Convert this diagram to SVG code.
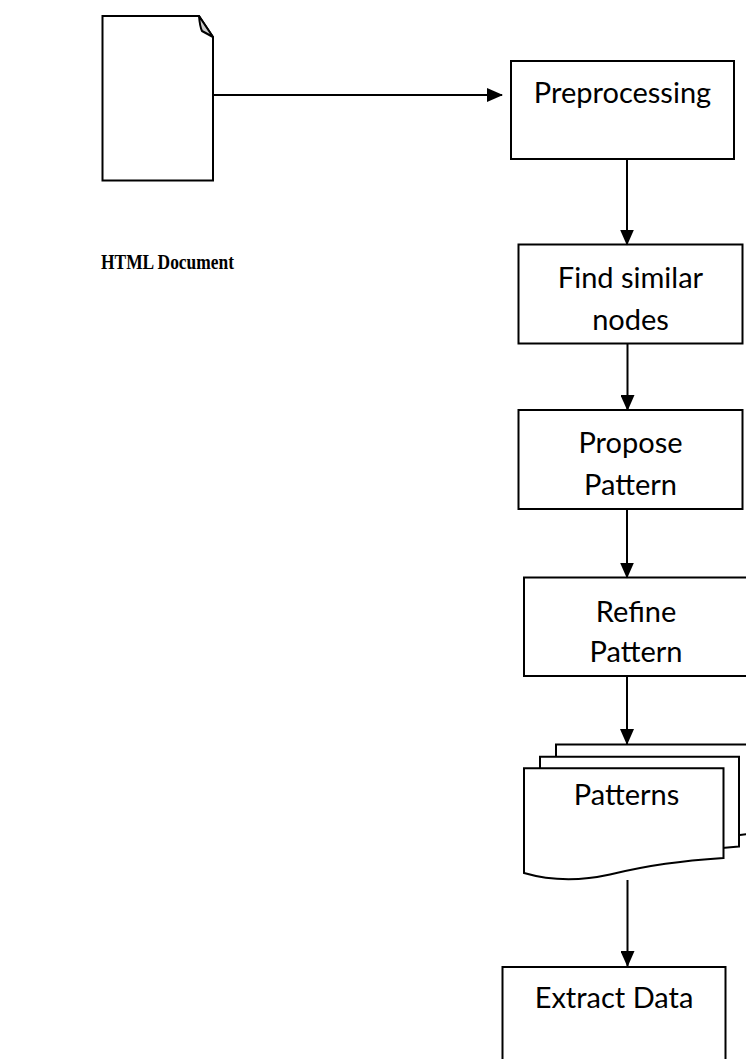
<svg xmlns="http://www.w3.org/2000/svg" width="746" height="1059" viewBox="0 0 746 1059">
  <style>
    .box { fill: #ffffff; stroke: #000000; stroke-width: 2; }
    .lbl { font-family: Lato, "Open Sans", "Liberation Sans", sans-serif; font-size: 29px; fill: #000000; text-anchor: middle; }
    .cap { font-family: "Liberation Serif", "Times New Roman", serif; font-size: 21px; font-weight: bold; fill: #000000; }
    .edge { stroke: #000000; stroke-width: 2; fill: none; }
  </style>
  <defs>
    <marker id="arr" markerWidth="16" markerHeight="14" refX="15" refY="7" orient="auto" markerUnits="userSpaceOnUse">
      <path d="M0,0 L16,7 L0,14 Z" fill="#000000"/>
    </marker>
  </defs>
  <rect width="746" height="1059" fill="#ffffff"/>

  <g id="html-document">
    <path class="box" d="M102.5,16 H199 L213,37 V180.5 H102.5 Z"/>
    <path d="M199,16 C199.5,22 200,27 202,31 L213,37 Z" fill="#cccccc" stroke="#000000" stroke-width="2" stroke-linejoin="round"/>
    <text class="cap" x="101" y="269" textLength="133" lengthAdjust="spacingAndGlyphs">HTML Document</text>
  </g>

  <g id="preprocessing">
    <rect class="box" x="511" y="61" width="223" height="98"/>
    <text class="lbl" x="622.5" y="103">Preprocessing</text>
  </g>

  <g id="find-similar">
    <rect class="box" x="518.5" y="244.5" width="224" height="99"/>
    <text class="lbl" x="630.5" y="288">Find similar</text>
    <text class="lbl" x="630.5" y="330">nodes</text>
  </g>

  <g id="propose-pattern">
    <rect class="box" x="518.5" y="410" width="224" height="99"/>
    <text class="lbl" x="630.5" y="453">Propose</text>
    <text class="lbl" x="630.5" y="495">Pattern</text>
  </g>

  <g id="refine-pattern">
    <rect class="box" x="524" y="577.5" width="224" height="98.5"/>
    <text class="lbl" x="636" y="621.5">Refine</text>
    <text class="lbl" x="636" y="662">Pattern</text>
  </g>

  <g id="patterns">
    <path class="box" d="M556,744.5 H760 V833 C720,836 690,842 660,850 C630,858 590,862 556,855 Z"/>
    <path class="box" d="M540,756.7 H739 V846.5 C700,849 670,855 640,862 C610,868 575,870 540,864 Z"/>
    <path class="box" d="M524,768.3 H723.5 V858 C680,861 650,865 610,874.5 C585,880 555,882 524,873 Z"/>
    <text class="lbl" x="626.5" y="805">Patterns</text>
  </g>

  <g id="extract-data">
    <rect class="box" x="502.5" y="967" width="223" height="100"/>
    <text class="lbl" x="614" y="1008">Extract Data</text>
  </g>

  <g id="connectors">
    <line class="edge" x1="214" y1="95" x2="502" y2="95" marker-end="url(#arr)"/>
    <line class="edge" x1="627" y1="159" x2="627" y2="244.5" marker-end="url(#arr)"/>
    <line class="edge" x1="627.5" y1="343.5" x2="627.5" y2="410" marker-end="url(#arr)"/>
    <line class="edge" x1="627" y1="509" x2="627" y2="577.5" marker-end="url(#arr)"/>
    <line class="edge" x1="627" y1="676" x2="627" y2="744" marker-end="url(#arr)"/>
    <line class="edge" x1="627.5" y1="880" x2="627.5" y2="966" marker-end="url(#arr)"/>
  </g>
</svg>
